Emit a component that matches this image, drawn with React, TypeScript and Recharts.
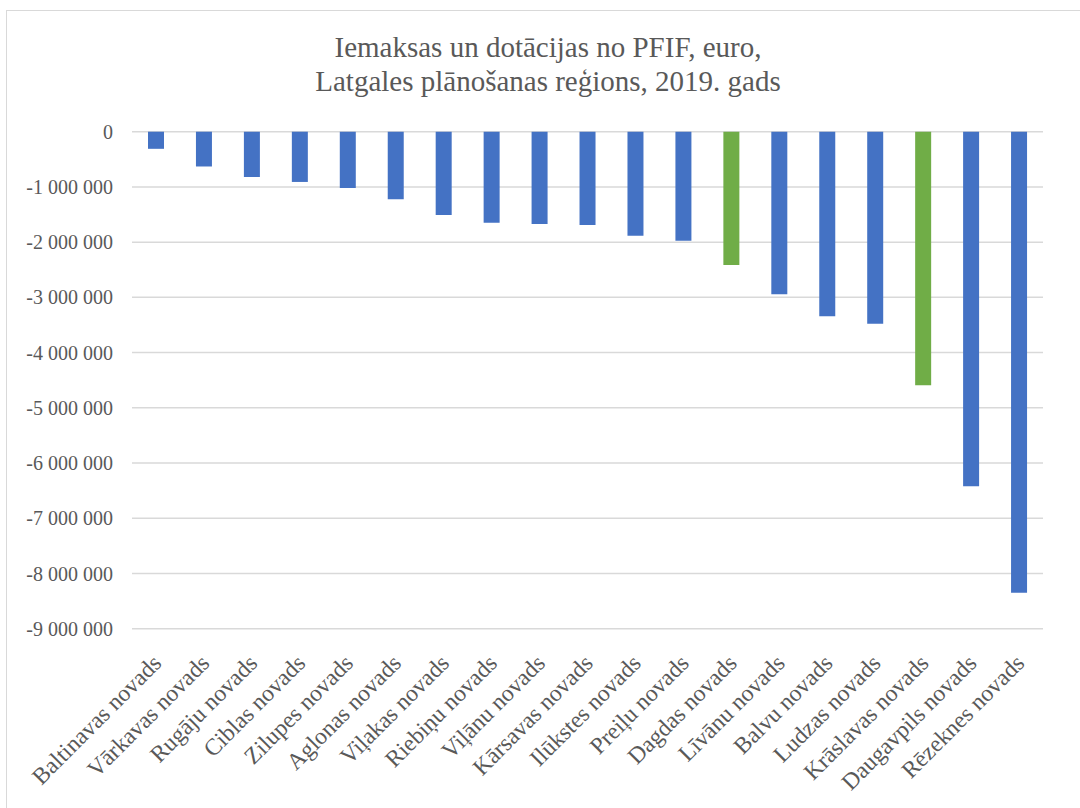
import { BarChart, Bar, XAxis, YAxis, CartesianGrid, Cell } from 'recharts';

const novadi = [
  'Baltinavas novads',
  'Vārkavas novads',
  'Rugāju novads',
  'Ciblas novads',
  'Zilupes novads',
  'Aglonas novads',
  'Viļakas novads',
  'Riebiņu novads',
  'Viļānu novads',
  'Kārsavas novads',
  'Ilūkstes novads',
  'Preiļu novads',
  'Dagdas novads',
  'Līvānu novads',
  'Balvu novads',
  'Ludzas novads',
  'Krāslavas novads',
  'Daugavpils novads',
  'Rēzeknes novads',
];

const summas = [
  -310000, -630000, -820000, -910000, -1020000, -1225000, -1510000, -1650000,
  -1670000, -1690000, -1885000, -1975000, -2415000, -2945000, -3340000,
  -3480000, -4590000, -6420000, -8350000,
];

const izceltie = ['Dagdas novads', 'Krāslavas novads'];

const yTicks = [0, -1000000, -2000000, -3000000, -4000000, -5000000, -6000000, -7000000, -8000000, -9000000];

const data = novadi.map((name, i) => ({ name, value: summas[i] }));

const FONT = '"Liberation Serif", "Times New Roman", serif';
const GREY = '#595959';

const fmt = (v: number) => String(v).replace(/\B(?=(\d{3})+(?!\d))/g, ' ');

const XTick = ({ x, y, payload }: any) => {
  const ax = x + 1;
  return (
    <text
      x={ax}
      y={y}
      transform={`rotate(-45 ${ax} ${y})`}
      textAnchor="end"
      dy="0.35em"
      fill={GREY}
      fontSize={23.5}
      fontFamily={FONT}
    >
      {payload.value}
    </text>
  );
};

export default function App() {
  return (
    <div
      style={{
        position: 'fixed',
        left: 0,
        top: 0,
        width: 1080,
        height: 808,
        overflow: 'hidden',
        background: '#fff',
      }}
    >
      <div
        style={{
          position: 'absolute',
          left: 6,
          top: 10,
          width: 1090,
          height: 820,
          border: '1.5px solid #d9d9d9',
        }}
      />
      <div
        style={{
          position: 'absolute',
          left: 248,
          top: 30,
          width: 600,
          textAlign: 'center',
          fontFamily: FONT,
          fontSize: 29,
          lineHeight: '34px',
          color: GREY,
        }}
      >
        Iemaksas un dotācijas no PFIF, euro,
        <br />
        Latgales plānošanas reģions, 2019. gads
      </div>
      <div style={{ position: 'absolute', left: 0, top: 0 }}>
        <BarChart
          width={1080}
          height={808}
          data={data}
          margin={{ top: 131.7, right: 37, bottom: 0, left: 0 }}
        >
          <CartesianGrid vertical={false} stroke="#d9d9d9" strokeWidth={1.5} />
          <XAxis
            dataKey="name"
            interval={0}
            height={179.3}
            axisLine={false}
            tickLine={false}
            tickSize={0}
            tickMargin={30}
            tick={<XTick />}
          />
          <YAxis
            width={132}
            domain={[-9000000, 0]}
            ticks={yTicks}
            axisLine={false}
            tickLine={false}
            tickSize={0}
            tickMargin={19}
            tickFormatter={fmt}
            tick={{ fill: GREY, fontSize: 20, fontFamily: FONT }}
          />
          <Bar dataKey="value" barSize={16} isAnimationActive={false}>
            {data.map((d) => (
              <Cell key={d.name} fill={izceltie.includes(d.name) ? '#70AD47' : '#4472C4'} />
            ))}
          </Bar>
        </BarChart>
      </div>
    </div>
  );
}
